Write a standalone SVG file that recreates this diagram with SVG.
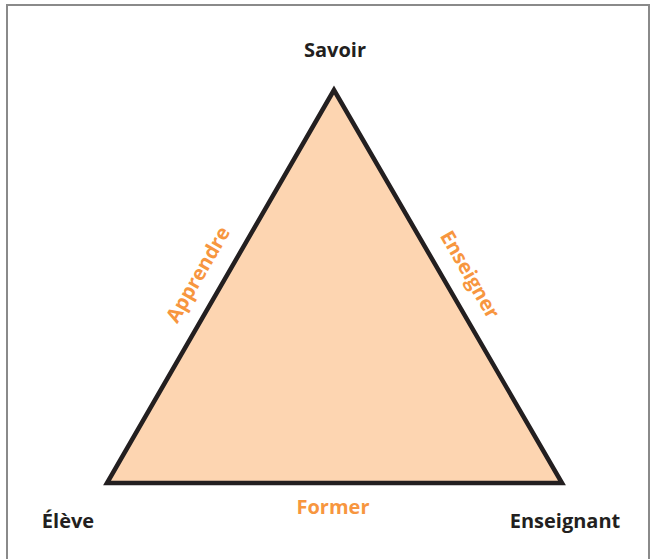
<svg xmlns="http://www.w3.org/2000/svg" width="654" height="559" viewBox="0 0 654 559">
<style>
.lbl{font-family:"Open Sans","Liberation Sans",sans-serif;font-weight:bold;font-size:20px;fill:#231f20;text-anchor:middle}
.edge{font-family:"Open Sans","Liberation Sans",sans-serif;font-weight:bold;font-size:20px;fill:#f7963f;text-anchor:middle}
</style>
<rect x="7" y="5" width="642" height="570" fill="#fff" stroke="#8a8a8a" stroke-width="2"/>
<g id="triangle">
<polygon points="334,90 107,483 562,483" fill="#fdd5b1" stroke="#231f20" stroke-width="4.5" stroke-linejoin="miter"/>
</g>
<g id="connectors">
<text class="edge" transform="translate(204,278) rotate(-60)">Apprendre</text>
<text class="edge" transform="translate(464,278) rotate(60)">Enseigner</text>
<text class="edge" x="333" y="514">Former</text>
</g>
<g id="savoir"><text class="lbl" x="335" y="57">Savoir</text></g>
<g id="eleve"><text class="lbl" x="68" y="528">Élève</text></g>
<g id="enseignant"><text class="lbl" x="565" y="528">Enseignant</text></g>
</svg>
